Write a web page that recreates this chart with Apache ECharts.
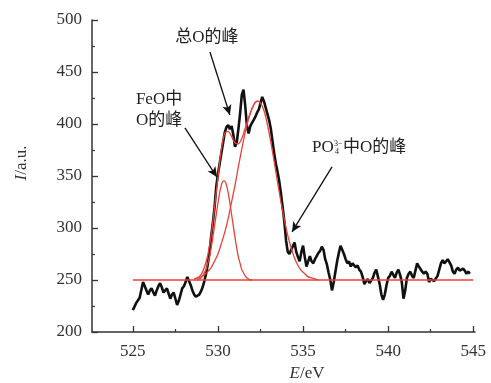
<!DOCTYPE html>
<html>
<head>
<meta charset="utf-8">
<script src="https://cdn.jsdelivr.net/npm/echarts@6/dist/echarts.min.js"></script>
<style>
  html, body { margin: 0; padding: 0; background: #fff; }
  #chart { width: 491px; height: 383px; }
</style>
</head>
<body>
<div id="chart"></div>
<script>
// 测量谱线 (黑)
const blackE = [
  525.0, 525.2, 525.4, 525.6, 525.7, 525.8, 525.9, 526.0, 526.1, 526.2, 526.3, 526.4, 526.5, 526.6, 526.7, 526.8, 526.9,
  527.0, 527.1, 527.2, 527.3, 527.4, 527.5, 527.6, 527.7, 527.8, 527.9, 528.0, 528.1, 528.2, 528.3, 528.4, 528.5,
  528.6, 528.7, 528.8, 528.9, 529.0, 529.1, 529.2, 529.3, 529.4, 529.5, 529.6, 529.7, 529.8, 529.9, 530.0, 530.1,
  530.2, 530.3, 530.4, 530.5, 530.6, 530.7, 530.8, 530.9, 531.0, 531.1, 531.2, 531.3, 531.4, 531.5, 531.6, 531.7,
  531.8, 531.9, 532.0, 532.1, 532.2, 532.3, 532.4, 532.5, 532.6, 532.7, 532.8, 532.9, 533.0, 533.1, 533.2, 533.3,
  533.4, 533.5, 533.6, 533.7, 533.8, 533.9, 534.0, 534.1, 534.2, 534.3, 534.4, 534.5, 534.6, 534.7, 534.8, 534.9,
  535.0, 535.1, 535.2, 535.3, 535.4, 535.5, 535.6, 535.7, 535.8, 535.9, 536.0, 536.1, 536.2, 536.3, 536.4, 536.5,
  536.6, 536.7, 536.8, 536.9, 537.0, 537.1, 537.2, 537.3, 537.4, 537.5, 537.6, 537.7, 537.8, 537.9, 538.0, 538.1,
  538.2, 538.3, 538.4, 538.5, 538.6, 538.7, 538.8, 538.9, 539.0, 539.1, 539.2, 539.3, 539.4, 539.5, 539.6, 539.7,
  539.8, 539.9, 540.0, 540.1, 540.2, 540.3, 540.4, 540.5, 540.6, 540.7, 540.8, 540.9, 541.0, 541.1, 541.2, 541.3,
  541.4, 541.5, 541.6, 541.7, 541.8, 541.9, 542.0, 542.1, 542.2, 542.3, 542.4, 542.5, 542.6, 542.7, 542.8, 542.9,
  543.0, 543.1, 543.2, 543.3, 543.4, 543.5, 543.6, 543.7, 543.8, 543.9, 544.0, 544.1, 544.2, 544.3, 544.4, 544.5,
  544.6, 544.7, 544.8,
]
const blackI = [
  221, 228, 233, 248, 244, 240, 236, 240, 242, 238, 235, 240, 244, 247, 243, 238, 240,
  242, 237, 232, 236, 238, 232, 226, 230, 236, 242, 244, 248, 253, 249, 245, 240,
  236, 234, 235, 236, 239, 243, 249, 256, 265, 276, 292, 305, 320, 340, 352, 362,
  372, 382, 392, 397, 399, 395, 398, 390, 378, 382, 395, 410, 428, 433, 418, 398,
  391, 398, 401, 404, 407, 411, 414, 420, 426, 422, 416, 410, 404, 396, 384, 372,
  362, 354, 345, 333, 320, 306, 288, 277, 275, 279, 280, 286, 277, 272, 268, 277,
  283, 272, 263, 268, 273, 268, 266, 270, 273, 276, 278, 282, 279, 270, 265, 257,
  250, 240, 248, 258, 268, 276, 283, 279, 275, 270, 266, 268, 263, 266, 264, 262,
  264, 260, 258, 253, 246, 249, 251, 247, 248, 252, 257, 260, 253, 246, 236, 231,
  236, 245, 252, 254, 258, 255, 252, 257, 260, 255, 248, 232, 240, 252, 256, 258,
  254, 252, 259, 266, 263, 264, 258, 256, 258, 256, 248, 251, 250, 249, 248, 254,
  260, 266, 269, 266, 267, 270, 271, 264, 258, 256, 260, 262, 259, 258, 261, 259,
  256, 258, 256,
]

// 拟合基线
const baseE = [525, 545]
const baseI = [250, 250]

// FeO 中 O 的峰
const feoE = [
  528.8, 528.9, 529.0, 529.1, 529.2, 529.3, 529.4, 529.5, 529.6, 529.7, 529.8, 529.9, 530.0, 530.1, 530.2, 530.3,
  530.4, 530.5, 530.6, 530.7, 530.8, 530.9, 531.0, 531.1, 531.2, 531.3, 531.4, 531.5, 531.6, 531.7, 531.8, 531.9, 532.0,
]
const feoI = [
  250, 251, 252, 254, 257, 260, 266, 272, 281, 291, 302, 313, 324, 334, 341, 345,
  345, 341, 334, 324, 313, 302, 291, 281, 272, 266, 260, 257, 254, 252, 251, 250, 250,
]

// PO4 3- 中 O 的峰
const po4E = [
  528.6, 528.8, 529.0, 529.2, 529.4, 529.6, 529.8, 530.0, 530.2, 530.4, 530.6, 530.8, 531.0, 531.2, 531.4, 531.6,
  531.8, 532.0, 532.2, 532.35, 532.5, 532.7, 532.9, 533.1, 533.3, 533.5, 533.7, 533.9, 534.1, 534.3, 534.5, 534.7,
  534.9, 535.1, 535.3, 535.5, 535.7, 535.9,
]
const po4I = [
  251, 252, 253, 255, 258, 262, 268, 275, 285, 296, 309, 325, 341, 359, 376, 392,
  405, 415, 421, 422, 420, 413, 400, 383, 364, 344, 325, 308, 293, 281, 271, 264,
  259, 256, 253, 252, 251, 250,
]

// 总 O 的峰 (包络)
const envE = [
  528.6, 528.8, 529.0, 529.2, 529.4, 529.6, 529.8, 530.0, 530.2, 530.4, 530.6, 530.8, 531.0, 531.2, 531.4, 531.6,
  531.8, 532.0, 532.2, 532.35,
]
const envI = [
  251, 252, 255, 262, 274, 293, 320, 349, 376, 391, 393, 388, 382, 381, 386, 396,
  406, 415, 421, 422,
]

const xMajor = [525, 530, 535, 540, 545]
const xMinor = [527.5, 532.5, 537.5, 542.5]

const FONT = "'Liberation Serif', 'Times New Roman', 'Noto Sans CJK SC', serif"
const RED = '#e8403a'
const AXIS = '#333'

const zip = (a, b) => a.map((v, i) => [v, b[i]])

function redLine(name, e, i) {
  return {
    name,
    type: 'line',
    data: zip(e, i),
    showSymbol: false,
    smooth: 0.3,
    lineStyle: { color: RED, width: 1.3 },
    z: 3,
    silent: true,
  }
}

const chartDom = document.getElementById('chart')
const chart = echarts.init(chartDom)

const option = {
  animation: false,
  grid: { left: 92, right: 16, top: 20, bottom: 51, outerBoundsMode: 'none' },
  xAxis: [
    {
      type: 'value',
      min: 522.6,
      max: 545.1,
      name: '{i|E}/eV',
      nameLocation: 'middle',
      nameGap: 33,
      nameTextStyle: {
        color: AXIS, fontFamily: FONT, fontSize: 17, padding: [0, 0, 0, 47],
        rich: { i: { fontStyle: 'italic', fontFamily: FONT, fontSize: 17, color: AXIS } },
      },
      axisLine: { show: true, lineStyle: { color: AXIS, width: 1.5 } },
      axisTick: { show: true, inside: true, length: 6, customValues: xMajor, lineStyle: { color: AXIS, width: 1.3 } },
      axisLabel: { customValues: xMajor, color: AXIS, fontFamily: FONT, fontSize: 17, margin: 11 },
      splitLine: { show: false },
    },
    {
      type: 'value',
      position: 'bottom',
      min: 522.6,
      max: 545.1,
      axisLine: { show: false },
      axisTick: { show: true, inside: true, length: 3, customValues: xMinor, lineStyle: { color: AXIS, width: 1.2 } },
      axisLabel: { show: false },
      splitLine: { show: false },
    },
  ],
  yAxis: {
    type: 'value',
    min: 200,
    max: 500,
    interval: 50,
    name: '{i|I}/a.u.',
    nameLocation: 'middle',
    nameGap: 62,
    nameTextStyle: {
      color: AXIS, fontFamily: FONT, fontSize: 17, padding: [0, 0, 0, 26],
      rich: { i: { fontStyle: 'italic', fontFamily: FONT, fontSize: 17, color: AXIS } },
    },
    axisLine: { show: true, lineStyle: { color: AXIS, width: 1.5 } },
    axisTick: { show: true, inside: true, length: 6, lineStyle: { color: AXIS, width: 1.3 } },
    minorTick: { show: true, splitNumber: 2, length: 3, lineStyle: { color: AXIS, width: 1.2 } },
    axisLabel: { color: AXIS, fontFamily: FONT, fontSize: 17, margin: 10 },
    splitLine: { show: false },
  },
  series: [
    {
      name: '谱线',
      type: 'line',
      data: zip(blackE, blackI),
      showSymbol: false,
      lineStyle: { color: '#111', width: 2.6 },
      z: 2,
      silent: true,
      markLine: {
        silent: true,
        symbol: ['none', 'arrow'],
        symbolSize: [7, 10],
        label: { show: false },
        lineStyle: { color: '#111', width: 1.3, type: 'solid' },
        data: [
          [{ coord: [529.53, 469.2] }, { coord: [530.7, 408.7] }],
          [{ coord: [528.06, 396.2] }, { coord: [529.94, 349.0] }],
          [{ coord: [536.7, 358.7] }, { coord: [534.35, 296.2] }],
        ],
      },
    },
    redLine('基线', baseE, baseI),
    redLine('FeO', feoE, feoI),
    redLine('PO4', po4E, po4I),
    redLine('总峰', envE, envI),
  ],
}

chart.setOption(option)

// 标注文字, 按数据坐标换算位置
function addLabels() {
  const p1 = chart.convertToPixel({ gridIndex: 0 }, [529.35, 482.7])
  const p2 = chart.convertToPixel({ gridIndex: 0 }, [525.18, 433.7])
  const p3 = chart.convertToPixel({ gridIndex: 0 }, [535.53, 376.9])
  const txt = { fontFamily: FONT, fontSize: 17, fill: '#222' }
  chart.setOption({
    graphic: [
      { type: 'text', x: p1[0], y: p1[1], style: { ...txt, text: '总O的峰', align: 'center', verticalAlign: 'middle' } },
      { type: 'text', x: p2[0], y: p2[1], style: { ...txt, text: 'FeO中\nO的峰', align: 'left', verticalAlign: 'top', lineHeight: 21 } },
      { type: 'text', x: p3[0], y: p3[1], style: { ...txt, text: 'PO', align: 'left', verticalAlign: 'middle' } },
      { type: 'text', x: p3[0] + 22, y: p3[1] - 4, style: { ...txt, fontSize: 8, text: '3−', align: 'left', verticalAlign: 'middle' } },
      { type: 'text', x: p3[0] + 23, y: p3[1] + 4, style: { ...txt, fontSize: 8, text: '4', align: 'left', verticalAlign: 'middle' } },
      { type: 'text', x: p3[0] + 31, y: p3[1], style: { ...txt, text: '中O的峰', align: 'left', verticalAlign: 'middle' } },
    ],
  })
}
addLabels()

window.addEventListener('resize', () => {
  chart.resize()
  addLabels()
})
</script>
</body>
</html>
